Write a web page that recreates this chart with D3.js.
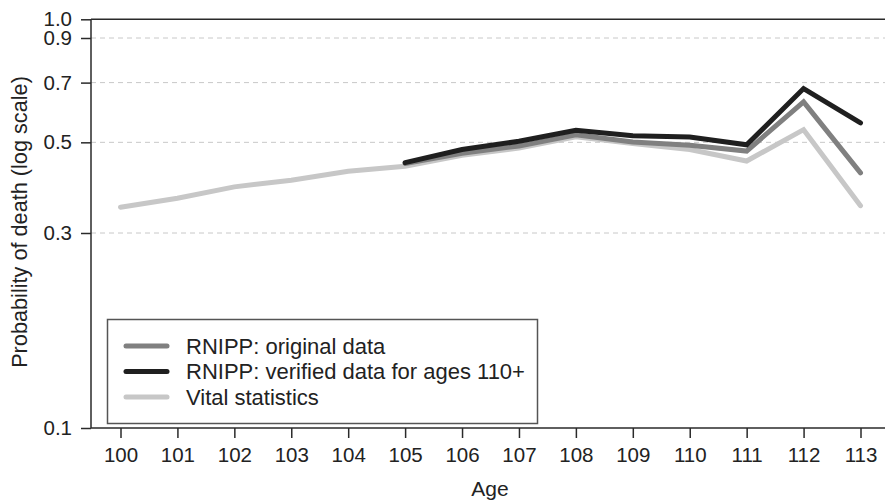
<!DOCTYPE html>
<html>
<head>
<meta charset="utf-8">
<script src="https://cdn.jsdelivr.net/npm/d3@7"></script>
<style>
  html, body { margin: 0; padding: 0; background: #fff; }
  svg { display: block; font-family: "Liberation Sans", Arial, sans-serif; }
</style>
</head>
<body>
<div id="chart"></div>
<script>
// ages on the x axis
const ages = [100, 101, 102, 103, 104, 105, 106, 107, 108, 109, 110, 111, 112, 113];

// probability of death per age (null = no data)
const vitalStats = [0.347, 0.365, 0.389, 0.404, 0.425, 0.437, 0.465, 0.484, 0.516, 0.497, 0.480, 0.450, 0.537, 0.350];
const rnippOriginal = [null, null, null, null, null, 0.444, 0.470, 0.490, 0.522, 0.501, 0.492, 0.476, 0.628, 0.421];
const rnippVerified = [null, null, null, null, null, 0.446, 0.480, 0.503, 0.535, 0.519, 0.515, 0.493, 0.677, 0.558];

const yTicks = [0.1, 0.3, 0.5, 0.7, 0.9, 1.0];
const gridTicks = [0.3, 0.5, 0.7, 0.9];

const series = [
  { label: 'RNIPP: original data', values: rnippOriginal, color: '#808080' },
  { label: 'RNIPP: verified data for ages 110+', values: rnippVerified, color: '#1f1f1f' },
  { label: 'Vital statistics', values: vitalStats, color: '#c7c7c7' }
];

const W = 885, H = 501;
const axisX = 91, axisY = 428, topY = 19.3;
const font = '"Liberation Sans", Arial, sans-serif';

const svg = d3.select('#chart').append('svg')
  .attr('width', W)
  .attr('height', H);

const x = d3.scaleLinear().domain([100, 113]).range([120.5, 860.5]);
const y = d3.scaleLog().domain([0.1, 1]).range([axisY, topY]);

// grid
svg.append('g')
  .selectAll('line')
  .data(gridTicks)
  .join('line')
  .attr('x1', axisX)
  .attr('x2', W)
  .attr('y1', d => y(d))
  .attr('y2', d => y(d))
  .attr('stroke', '#c8c8c8')
  .attr('stroke-width', 1)
  .attr('stroke-dasharray', '5,4');

// frame lines
const frameColor = '#2a2a2a';
svg.append('line')
  .attr('x1', axisX).attr('x2', axisX)
  .attr('y1', topY).attr('y2', axisY)
  .attr('stroke', frameColor).attr('stroke-width', 1.5);
svg.append('line')
  .attr('x1', axisX).attr('x2', W)
  .attr('y1', axisY).attr('y2', axisY)
  .attr('stroke', frameColor).attr('stroke-width', 1.5);
svg.append('line')
  .attr('x1', axisX).attr('x2', W)
  .attr('y1', topY).attr('y2', topY)
  .attr('stroke', frameColor).attr('stroke-width', 1.5);

// y axis
const yAxis = svg.append('g')
  .attr('transform', `translate(${axisX},0)`)
  .call(d3.axisLeft(y).tickValues(yTicks).tickFormat(d3.format('.1f'))
    .tickSize(10).tickSizeOuter(0).tickPadding(9));
yAxis.select('.domain').remove();
yAxis.selectAll('line').attr('stroke', frameColor).attr('stroke-width', 1.5);
yAxis.selectAll('text').attr('font-size', 20.5).attr('fill', '#222')
  .attr('font-family', font);

// x axis
const xAxis = svg.append('g')
  .attr('transform', `translate(0,${axisY})`)
  .call(d3.axisBottom(x).tickValues(ages).tickFormat(d3.format('d'))
    .tickSize(10).tickSizeOuter(0).tickPadding(9));
xAxis.select('.domain').remove();
xAxis.selectAll('line').attr('stroke', frameColor).attr('stroke-width', 1.5);
xAxis.selectAll('text').attr('font-size', 20.5).attr('fill', '#222')
  .attr('font-family', font);

// axis titles
svg.append('text')
  .attr('x', 490)
  .attr('y', 496)
  .attr('text-anchor', 'middle')
  .attr('font-size', 21)
  .attr('fill', '#222')
  .text('Age');

svg.append('text')
  .attr('transform', 'translate(27,222) rotate(-90)')
  .attr('text-anchor', 'middle')
  .attr('font-size', 21.7)
  .attr('fill', '#222')
  .text('Probability of death (log scale)');

// lines (light first, black on top)
const line = d3.line()
  .defined(d => d.v != null)
  .x(d => x(d.age))
  .y(d => y(d.v));

const drawOrder = [series[2], series[0], series[1]];
svg.append('g')
  .selectAll('path')
  .data(drawOrder)
  .join('path')
  .attr('d', s => line(ages.map((a, i) => ({ age: a, v: s.values[i] }))))
  .attr('fill', 'none')
  .attr('stroke', s => s.color)
  .attr('stroke-width', 5)
  .attr('stroke-linecap', 'round')
  .attr('stroke-linejoin', 'miter');

// legend
const legend = svg.append('g');
legend.append('rect')
  .attr('x', 107.5).attr('y', 319.5)
  .attr('width', 430).attr('height', 104)
  .attr('fill', '#fff')
  .attr('stroke', '#555')
  .attr('stroke-width', 1.5);

const rows = legend.selectAll('g.row')
  .data(series)
  .join('g')
  .attr('class', 'row')
  .attr('transform', (d, i) => `translate(0,${346 + i * 25.5})`);
rows.append('line')
  .attr('x1', 126).attr('x2', 167)
  .attr('stroke', d => d.color)
  .attr('stroke-width', 5)
  .attr('stroke-linecap', 'round');
rows.append('text')
  .attr('x', 186)
  .attr('dy', '0.35em')
  .attr('font-size', 22)
  .attr('fill', '#222')
  .text(d => d.label);
</script>
</body>
</html>
